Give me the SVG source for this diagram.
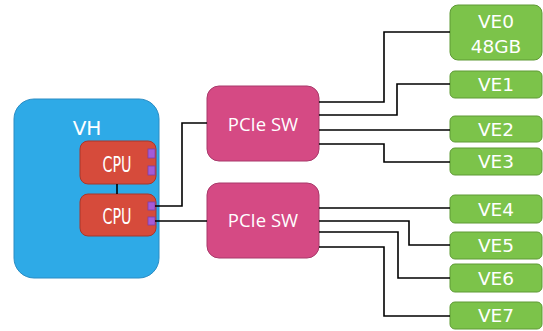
<svg xmlns="http://www.w3.org/2000/svg" width="543" height="331" viewBox="0 0 543 331">
  <style>
    .host { fill: #2EAAE7; stroke: #2A8CC4; stroke-width: 1; }
    .cpu { fill: #D64B3B; stroke: #A8372B; stroke-width: 1; }
    .port { fill: #A35BD8; stroke: #7B3FAA; stroke-width: 0.8; }
    .sw { fill: #D54A84; stroke: #A8396A; stroke-width: 1; }
    .ve { fill: #7CC34A; stroke: #5E9A35; stroke-width: 1; }
    .wire { fill: none; stroke: #000; stroke-width: 1.6; }
    .lbl { fill: #fff; text-anchor: middle; }
    .t-host { font-family: "DejaVu Sans", Verdana, sans-serif; font-size: 20px; }
    .t-cpu { font-family: "DejaVu Sans Condensed", "DejaVu Sans", sans-serif; font-size: 21px; }
    .t-sw { font-family: "Open Sans", "Noto Sans", sans-serif; font-size: 18.5px; }
    .t-ve { font-family: "DejaVu Sans", Verdana, sans-serif; font-size: 18.5px; }
  </style>

  <!-- host -->
  <g id="vh">
    <rect class="host" x="14" y="99" width="145" height="179" rx="20"/>
    <text class="lbl t-host" x="87" y="135">VH</text>
  </g>

  <g id="cpu0">
    <rect class="cpu" x="80" y="141" width="76" height="43" rx="8"/>
    <text class="lbl t-cpu" x="117" y="172" textLength="29" lengthAdjust="spacingAndGlyphs">CPU</text>
    <rect class="port" x="148" y="149" width="7" height="9"/>
    <rect class="port" x="148" y="166" width="7" height="9"/>
  </g>

  <g id="cpu1">
    <rect class="cpu" x="80" y="194" width="76" height="42" rx="8"/>
    <text class="lbl t-cpu" x="117" y="224" textLength="29" lengthAdjust="spacingAndGlyphs">CPU</text>
    <rect class="port" x="148" y="202" width="7" height="8"/>
    <rect class="port" x="148" y="217" width="7" height="8"/>
  </g>

  <!-- switches -->
  <g id="sw0">
    <rect class="sw" x="207" y="86" width="112" height="75" rx="12"/>
    <text class="lbl t-sw" x="263" y="131">PCIe SW</text>
  </g>
  <g id="sw1">
    <rect class="sw" x="207" y="183" width="112" height="75" rx="12"/>
    <text class="lbl t-sw" x="263" y="227">PCIe SW</text>
  </g>

  <!-- vector engines -->
  <g id="ve0">
    <rect class="ve" x="450" y="5" width="92" height="55" rx="8"/>
    <text class="lbl t-ve" x="496" y="28">VE0</text>
    <text class="lbl t-ve" x="496" y="53">48GB</text>
  </g>
  <g id="ve1">
    <rect class="ve" x="450" y="71" width="92" height="27" rx="5"/>
    <text class="lbl t-ve" x="496" y="91">VE1</text>
  </g>
  <g id="ve2">
    <rect class="ve" x="450" y="116" width="92" height="26" rx="5"/>
    <text class="lbl t-ve" x="496" y="136">VE2</text>
  </g>
  <g id="ve3">
    <rect class="ve" x="450" y="148" width="92" height="27" rx="5"/>
    <text class="lbl t-ve" x="496" y="168">VE3</text>
  </g>
  <g id="ve4">
    <rect class="ve" x="450" y="195" width="92" height="28" rx="5"/>
    <text class="lbl t-ve" x="496" y="216">VE4</text>
  </g>
  <g id="ve5">
    <rect class="ve" x="450" y="232" width="92" height="27" rx="5"/>
    <text class="lbl t-ve" x="496" y="252">VE5</text>
  </g>
  <g id="ve6">
    <rect class="ve" x="450" y="264" width="92" height="28" rx="5"/>
    <text class="lbl t-ve" x="496" y="285">VE6</text>
  </g>
  <g id="ve7">
    <rect class="ve" x="450" y="302" width="92" height="27" rx="5"/>
    <text class="lbl t-ve" x="496" y="322">VE7</text>
  </g>

  <!-- links -->
  <g id="connectors">
    <path class="wire" d="M117,184 V194"/>
    <path class="wire" d="M155,206 H182 V123 H207"/>
    <path class="wire" d="M155,221 H207"/>

    <path class="wire" d="M319,102 H384 V32 H450"/>
    <path class="wire" d="M319,115 H397 V84 H450"/>
    <path class="wire" d="M319,130 H450"/>
    <path class="wire" d="M319,144 H384 V162 H450"/>

    <path class="wire" d="M319,208 H450"/>
    <path class="wire" d="M319,221 H409 V245 H450"/>
    <path class="wire" d="M319,232 H398 V278 H450"/>
    <path class="wire" d="M319,247 H384 V316 H450"/>
  </g>
</svg>
